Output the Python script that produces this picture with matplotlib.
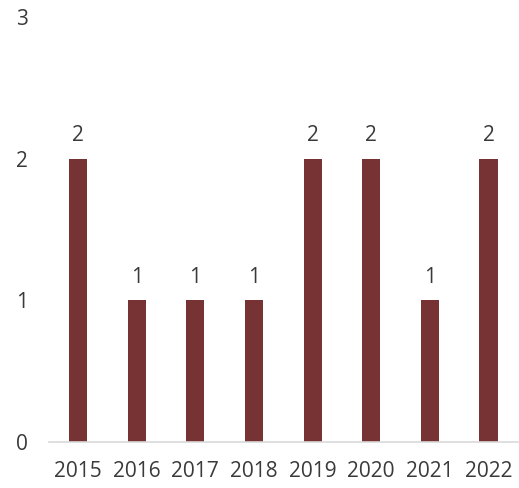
import matplotlib
matplotlib.use("Agg")
import matplotlib.pyplot as plt

years = ["2015", "2016", "2017", "2018", "2019", "2020", "2021", "2022"]
counts = [2, 1, 1, 1, 2, 2, 1, 2]
y_ticks = [0, 1, 2, 3]

bar_color = "#773333"
text_color = "#3a3a3a"

plt.rcParams["font.family"] = ["Open Sans", "DejaVu Sans"]

fig = plt.figure(figsize=(5.19, 4.88), dpi=100)
ax = fig.add_axes([0.0938, 0.0943, 0.904, 0.870])

x = list(range(len(years)))
ax.bar(x, counts, width=0.31, color=bar_color, zorder=2)
for xi, v in zip(x, counts):
    ax.text(xi, v + 0.09, str(v), ha="center", va="bottom",
            fontsize=15, color=text_color)

ax.set_xlim(-0.5, len(years) - 0.5)
ax.set_ylim(0, 3)
ax.set_xticks(x)
ax.set_xticklabels(years)
ax.set_yticks(y_ticks)
ax.tick_params(axis="both", length=0, labelsize=15, labelcolor=text_color)
ax.tick_params(axis="y", pad=15)
ax.tick_params(axis="x", pad=14)

for side in ["top", "right", "left"]:
    ax.spines[side].set_visible(False)
ax.spines["bottom"].set_color("#d9d9d9")
ax.spines["bottom"].set_linewidth(1.2)

fig.savefig("out.png", dpi=100)
